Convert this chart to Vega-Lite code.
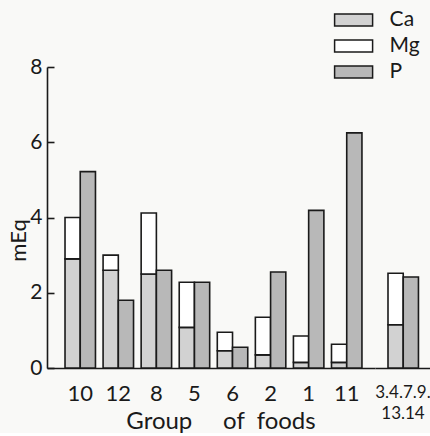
{
  "$schema": "https://vega.github.io/schema/vega-lite/v6.json",
  "autosize": {"type": "pad"},
  "padding": {"left": 7, "top": 7, "right": 0, "bottom": 0},
  "background": "#f9f9f7",
  "config": {"view": {"stroke": null}, "font": "Lato", "concat": {"spacing": 0}},
  "bounds": "flush",
  "spacing": 0,
  "data": {
    "values": [
      {"group": "10", "element": "Ca", "value": 2.9},
      {"group": "10", "element": "Mg", "value": 1.1},
      {"group": "10", "element": "P", "value": 5.22},
      {"group": "12", "element": "Ca", "value": 2.6},
      {"group": "12", "element": "Mg", "value": 0.4},
      {"group": "12", "element": "P", "value": 1.8},
      {"group": "8", "element": "Ca", "value": 2.5},
      {"group": "8", "element": "Mg", "value": 1.62},
      {"group": "8", "element": "P", "value": 2.6},
      {"group": "5", "element": "Ca", "value": 1.08},
      {"group": "5", "element": "Mg", "value": 1.2},
      {"group": "5", "element": "P", "value": 2.28},
      {"group": "6", "element": "Ca", "value": 0.46},
      {"group": "6", "element": "Mg", "value": 0.49},
      {"group": "6", "element": "P", "value": 0.55},
      {"group": "2", "element": "Ca", "value": 0.35},
      {"group": "2", "element": "Mg", "value": 1.0},
      {"group": "2", "element": "P", "value": 2.55},
      {"group": "1", "element": "Ca", "value": 0.15},
      {"group": "1", "element": "Mg", "value": 0.7},
      {"group": "1", "element": "P", "value": 4.19},
      {"group": "11", "element": "Ca", "value": 0.15},
      {"group": "11", "element": "Mg", "value": 0.48},
      {"group": "11", "element": "P", "value": 6.25},
      {"group": "3.4.7.9.13.14", "element": "Ca", "value": 1.15},
      {"group": "3.4.7.9.13.14", "element": "Mg", "value": 1.37},
      {"group": "3.4.7.9.13.14", "element": "P", "value": 2.42}
    ]
  },
  "transform": [
    {"calculate": "datum.element === 'P' ? 'P' : 'CaMg'", "as": "bar"},
    {"stack": "value", "groupby": ["group", "bar"], "sort": [{"field": "element", "order": "ascending"}], "as": ["v0", "v1"]}
  ],
  "resolve": {"scale": {"x": "independent", "y": "shared", "fill": "shared"}},
  "hconcat": [
    {
      "width": 328,
      "height": 301,
      "transform": [{"filter": "datum.group !== '3.4.7.9.13.14'"}],
      "mark": {"type": "bar", "stroke": "#1a1a1a", "strokeWidth": 1.6},
      "encoding": {
        "x": {
          "field": "group",
          "type": "nominal",
          "scale": {
            "domain": ["10", "12", "8", "5", "6", "2", "1", "11"],
            "paddingInner": 0.2,
            "paddingOuter": 0.408,
            "align": 0.58
          },
          "axis": {
            "title": "Group\u00a0\u00a0\u00a0\u00a0\u00a0of\u00a0\u00a0foods",
            "ticks": false,
            "domainColor": "#1a1a1a",
            "domainWidth": 1.6,
            "labelAngle": 0,
            "labelFontSize": 22,
            "labelColor": "#1a1a1a",
            "labelPadding": 32,
            "labelBaseline": "alphabetic",
            "labelOverlap": false,
            "labelBound": false,
            "labelFlush": false,
            "titleFontSize": 24,
            "titleFontWeight": "normal",
            "titleColor": "#1a1a1a",
            "titleX": 173.5,
            "titleY": 60,
            "titleBaseline": "alphabetic",
            "titleAlign": "center"
          }
        },
        "xOffset": {
          "field": "bar",
          "type": "nominal",
          "scale": {"domain": ["CaMg", "P"], "paddingInner": 0, "paddingOuter": 0}
        },
        "y": {
          "field": "v1",
          "type": "quantitative",
          "scale": {"domain": [0, 8], "nice": false},
          "axis": {
            "title": "mEq",
            "values": [0, 2, 4, 6, 8],
            "grid": false,
            "tickSize": -7,
            "tickColor": "#1a1a1a",
            "tickWidth": 1.6,
            "domainColor": "#1a1a1a",
            "domainWidth": 1.6,
            "labelFontSize": 21,
            "labelColor": "#1a1a1a",
            "labelPadding": 12,
            "titleFontSize": 22,
            "titleFontWeight": "normal",
            "titleColor": "#1a1a1a",
            "titleX": -29,
            "titleY": 173,
            "titleAngle": -90,
            "titleAlign": "center",
            "titleBaseline": "middle"
          }
        },
        "y2": {"field": "v0"},
        "fill": {
          "field": "element",
          "type": "nominal",
          "scale": {"domain": ["Ca", "Mg", "P"], "range": ["#d2d2d2", "#ffffff", "#b8b8b8"]},
          "legend": {
            "title": null,
            "orient": "none",
            "legendX": 293.6,
            "legendY": -60,
            "symbolType": "M-1.6,-0.5H1.6V0.5H-1.6Z",
            "symbolSize": 564,
            "symbolStrokeColor": "#1a1a1a",
            "symbolStrokeWidth": 1.5,
            "symbolOpacity": 1,
            "labelFontSize": 21,
            "labelColor": "#1a1a1a",
            "labelOffset": 23,
            "rowPadding": 3
          }
        }
      }
    },
    {
      "width": 55,
      "height": 301,
      "transform": [{"filter": "datum.group === '3.4.7.9.13.14'"}],
      "mark": {"type": "bar", "stroke": "#1a1a1a", "strokeWidth": 1.6},
      "encoding": {
        "x": {
          "field": "group",
          "type": "nominal",
          "scale": {
            "domain": ["3.4.7.9.13.14"],
            "paddingInner": 0,
            "paddingOuter": 0.4167,
            "align": 0.52
          },
          "axis": {
            "title": null,
            "ticks": false,
            "domainColor": "#1a1a1a",
            "domainWidth": 1.6,
            "labelAngle": 0,
            "labelFontSize": 17,
            "labelColor": "#1a1a1a",
            "labelPadding": 29,
            "labelBaseline": "alphabetic",
            "labelLineHeight": 21,
            "labelOverlap": false,
            "labelBound": false,
            "labelFlush": false,
            "labelExpr": "['3.4.7.9.', '13.14']"
          }
        },
        "xOffset": {
          "field": "bar",
          "type": "nominal",
          "scale": {"domain": ["CaMg", "P"], "paddingInner": 0, "paddingOuter": 0}
        },
        "y": {
          "field": "v1",
          "type": "quantitative",
          "scale": {"domain": [0, 8], "nice": false},
          "axis": null
        },
        "y2": {"field": "v0"},
        "fill": {
          "field": "element",
          "type": "nominal",
          "scale": {"domain": ["Ca", "Mg", "P"], "range": ["#d2d2d2", "#ffffff", "#b8b8b8"]},
          "legend": {
            "title": null,
            "orient": "none",
            "legendX": 293.6,
            "legendY": -60,
            "symbolType": "M-1.6,-0.5H1.6V0.5H-1.6Z",
            "symbolSize": 564,
            "symbolStrokeColor": "#1a1a1a",
            "symbolStrokeWidth": 1.5,
            "symbolOpacity": 1,
            "labelFontSize": 21,
            "labelColor": "#1a1a1a",
            "labelOffset": 23,
            "rowPadding": 3
          }
        }
      }
    }
  ]
}
